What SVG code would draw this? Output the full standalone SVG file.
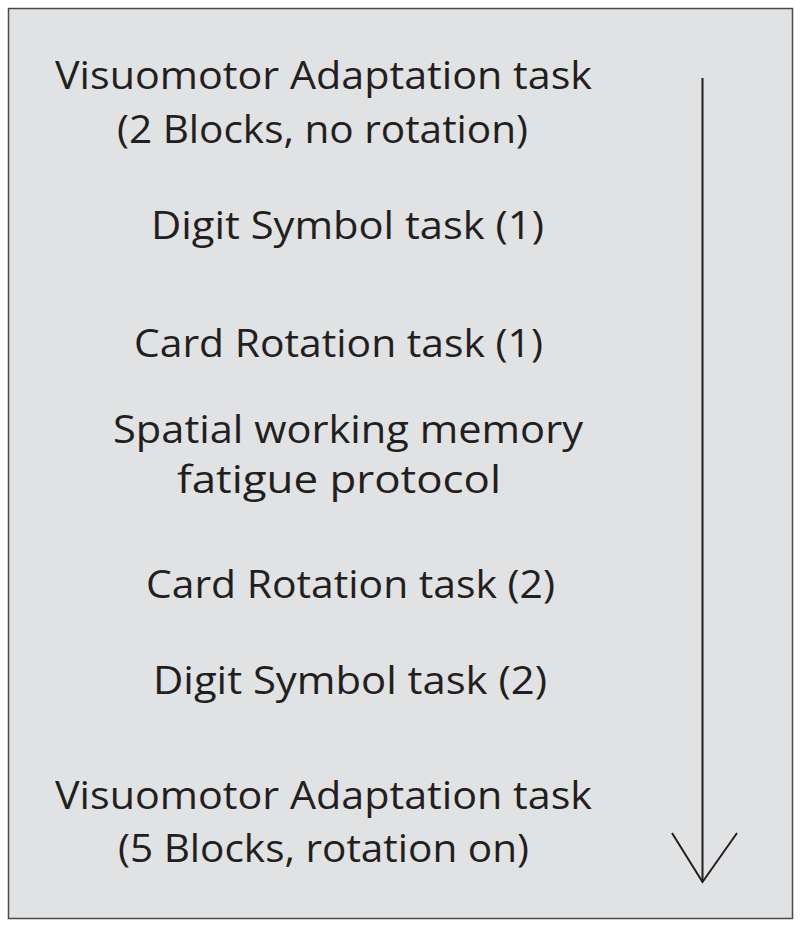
<svg xmlns="http://www.w3.org/2000/svg" width="800" height="927" viewBox="0 0 800 927">
<style>
.t{font-family:"Open Sans","Noto Sans","Liberation Sans",sans-serif;font-size:39px;fill:#231f20}
</style>
<rect x="0" y="0" width="800" height="927" fill="#ffffff"/>
<rect id="frame" x="8.5" y="8.5" width="784" height="910" fill="#e1e2e3" stroke="#4a4a4a" stroke-width="1.5"/>
<g id="n1"><text class="t" x="55" y="89" textLength="537" lengthAdjust="spacingAndGlyphs">Visuomotor Adaptation task</text>
<text class="t" x="117" y="143" textLength="411" lengthAdjust="spacingAndGlyphs">(2 Blocks, no rotation)</text></g>
<g id="n2"><text class="t" x="151" y="239" textLength="393" lengthAdjust="spacingAndGlyphs">Digit Symbol task (1)</text></g>
<g id="n3"><text class="t" x="134" y="357" textLength="409" lengthAdjust="spacingAndGlyphs">Card Rotation task (1)</text></g>
<g id="n4"><text class="t" x="113" y="443" textLength="470" lengthAdjust="spacingAndGlyphs">Spatial working memory</text>
<text class="t" x="177" y="493" textLength="324" lengthAdjust="spacingAndGlyphs">fatigue protocol</text></g>
<g id="n5"><text class="t" x="146" y="598" textLength="409" lengthAdjust="spacingAndGlyphs">Card Rotation task (2)</text></g>
<g id="n6"><text class="t" x="153" y="694" textLength="394" lengthAdjust="spacingAndGlyphs">Digit Symbol task (2)</text></g>
<g id="n7"><text class="t" x="55" y="809" textLength="537" lengthAdjust="spacingAndGlyphs">Visuomotor Adaptation task</text>
<text class="t" x="118" y="862" textLength="411" lengthAdjust="spacingAndGlyphs">(5 Blocks, rotation on)</text></g>
<g id="connectors" fill="none" stroke="#231f20" stroke-width="2">
<line x1="702.5" y1="78" x2="702.5" y2="882"/>
<polyline points="672,833 702.5,882 737,833"/>
</g>
</svg>
